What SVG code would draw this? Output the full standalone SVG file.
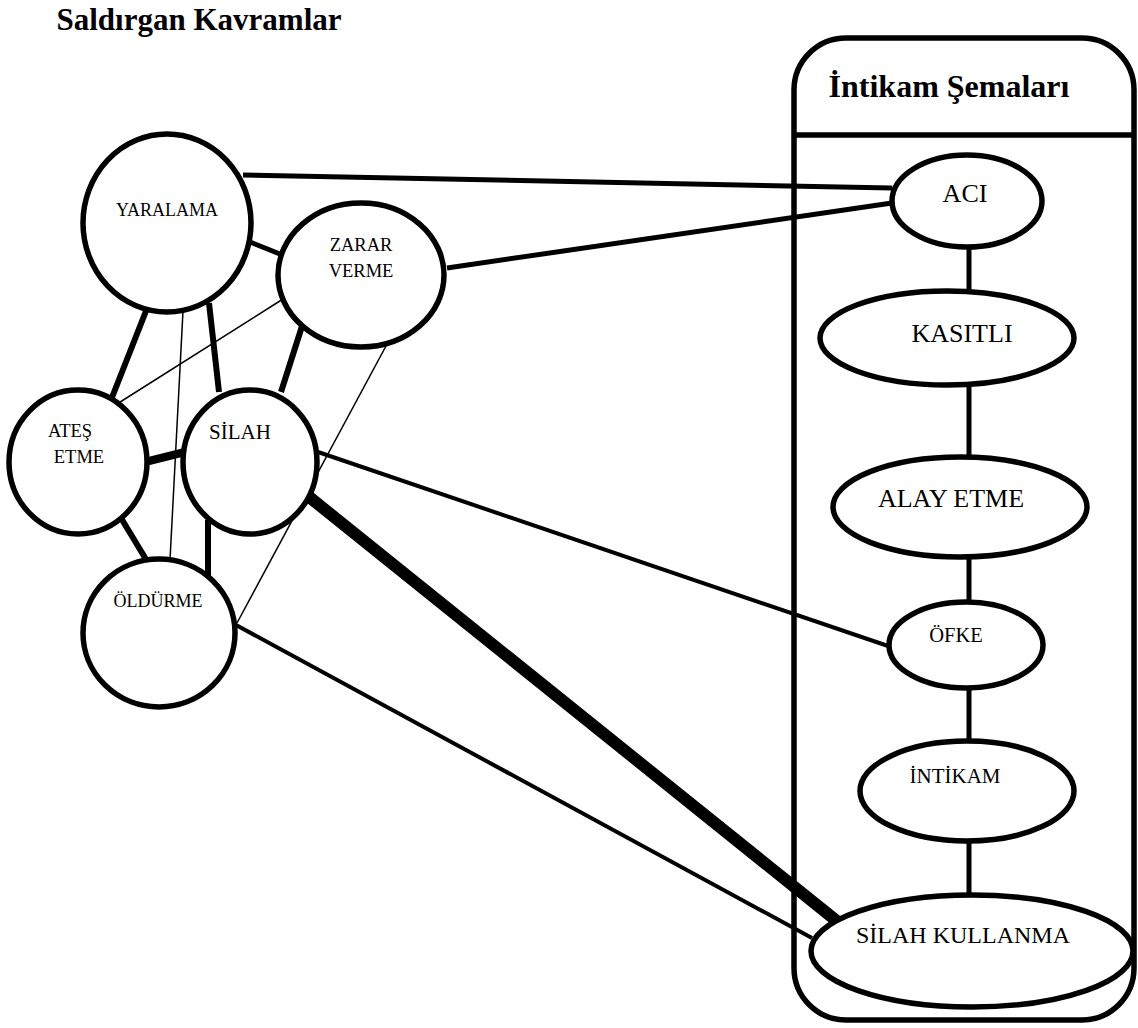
<svg xmlns="http://www.w3.org/2000/svg" width="1138" height="1028" viewBox="0 0 1138 1028">
<style>
.node{fill:#fff;stroke:#000;stroke-width:5.5}
.c{stroke:#000;fill:none;stroke-linecap:butt}
text{font-family:'Liberation Serif','DejaVu Serif',serif;fill:#000;text-anchor:middle}
.b{font-weight:bold}
</style>
<rect width="1138" height="1028" fill="#fff"/>
<text class="b" x="199" y="30" font-size="31" font-family="Liberation Serif, serif">Saldırgan Kavramlar</text>
<g id="container">
<rect x="794" y="38" width="340" height="982" rx="52" ry="52" fill="none" stroke="#000" stroke-width="5.5"/>
<line x1="794" y1="135" x2="1134" y2="135" stroke="#000" stroke-width="5.5"/>
<text class="b" x="949" y="97" font-size="32">İntikam Şemaları</text>
</g>
<g id="connectors">
<line class="c" x1="243" y1="175" x2="892" y2="188" stroke-width="5"/>
<line class="c" x1="447" y1="268" x2="892" y2="203" stroke-width="5"/>
<line class="c" x1="250" y1="242" x2="290" y2="258" stroke-width="5"/>
<line class="c" x1="146" y1="311" x2="111" y2="400" stroke-width="6"/>
<line class="c" x1="183" y1="311" x2="170" y2="560" stroke-width="1.5"/>
<line class="c" x1="209" y1="303" x2="219" y2="392" stroke-width="6"/>
<line class="c" x1="283" y1="299" x2="117" y2="404" stroke-width="1.5"/>
<line class="c" x1="304" y1="320" x2="281" y2="392" stroke-width="6"/>
<line class="c" x1="393" y1="333" x2="237" y2="623" stroke-width="1.5"/>
<line class="c" x1="145" y1="462" x2="185" y2="452" stroke-width="8"/>
<line class="c" x1="121" y1="518" x2="147" y2="561" stroke-width="6"/>
<line class="c" x1="208" y1="520" x2="208" y2="576" stroke-width="6"/>
<line class="c" x1="318" y1="452" x2="891" y2="647" stroke-width="4"/>
<line class="c" x1="308" y1="496" x2="838" y2="922" stroke-width="12"/>
<line class="c" x1="236" y1="625" x2="812" y2="938" stroke-width="4"/>
<line class="c" x1="969" y1="246" x2="969" y2="293" stroke-width="5"/>
<line class="c" x1="969" y1="383" x2="969" y2="460" stroke-width="5"/>
<line class="c" x1="969" y1="555" x2="969" y2="604" stroke-width="5"/>
<line class="c" x1="969" y1="686" x2="969" y2="744" stroke-width="5"/>
<line class="c" x1="969" y1="838" x2="969" y2="896" stroke-width="5"/>
</g>
<g id="yaralama">
<ellipse class="node" cx="167" cy="223" rx="84" ry="89"/>
<text x="167" y="216" font-size="18">YARALAMA</text>
</g>
<g id="zarar-verme">
<ellipse class="node" cx="361" cy="275" rx="83" ry="72"/>
<text x="361" y="251" font-size="18.5">ZARAR</text>
<text x="361" y="277" font-size="18.5">VERME</text>
</g>
<g id="ates-etme">
<ellipse class="node" cx="78" cy="462" rx="69" ry="72"/>
<text x="70" y="437" font-size="18.5">ATEŞ</text>
<text x="79" y="463" font-size="18.5">ETME</text>
</g>
<g id="silah">
<ellipse class="node" cx="250" cy="462" rx="67" ry="72"/>
<text x="240" y="439" font-size="21">SİLAH</text>
</g>
<g id="oldurme">
<ellipse class="node" cx="159" cy="633" rx="76" ry="74"/>
<text x="158" y="607" font-size="18">ÖLDÜRME</text>
</g>
<g id="aci">
<ellipse class="node" cx="967" cy="201" rx="75" ry="46"/>
<text x="965" y="202" font-size="26">ACI</text>
</g>
<g id="kasitli">
<ellipse class="node" cx="947" cy="338" rx="127" ry="47"/>
<text x="962" y="342" font-size="26">KASITLI</text>
</g>
<g id="alay-etme">
<ellipse class="node" cx="960" cy="507" rx="127" ry="50"/>
<text x="951" y="507" font-size="26">ALAY ETME</text>
</g>
<g id="ofke">
<ellipse class="node" cx="966" cy="645" rx="77" ry="43"/>
<text x="956" y="642" font-size="20.5">ÖFKE</text>
</g>
<g id="intikam">
<ellipse class="node" cx="967" cy="791" rx="107" ry="50"/>
<text x="955" y="783" font-size="21">İNTİKAM</text>
</g>
<g id="silah-kullanma">
<ellipse class="node" cx="972" cy="951" rx="161" ry="56"/>
<text x="963" y="943" font-size="24">SİLAH KULLANMA</text>
</g>
</svg>
